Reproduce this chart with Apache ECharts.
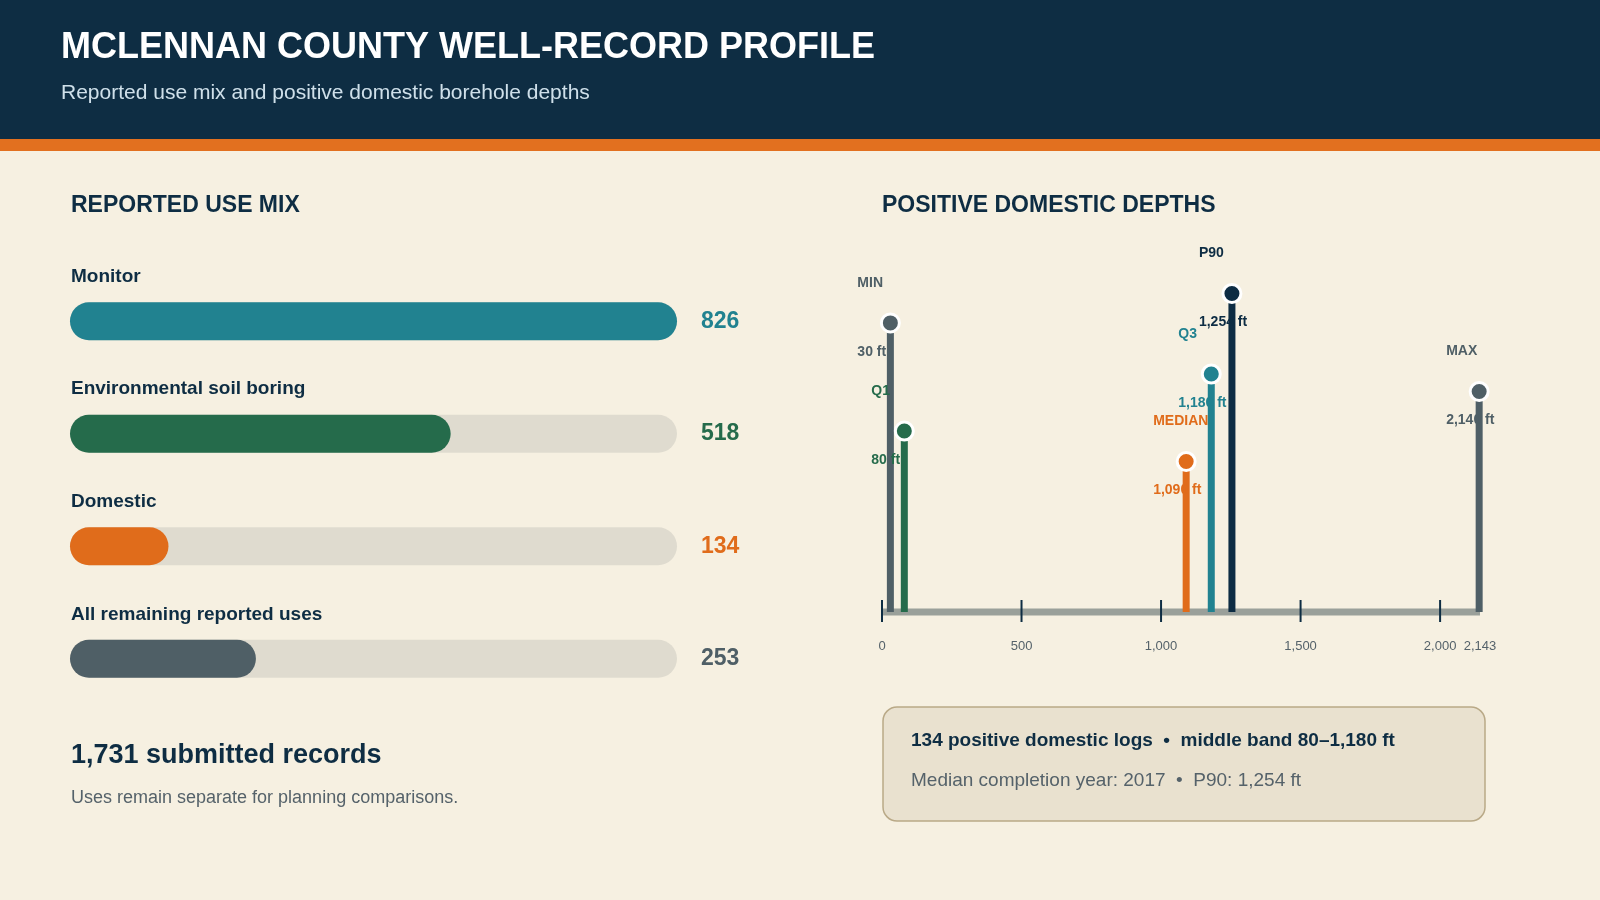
<!DOCTYPE html>
<html><head><meta charset="utf-8">
<script src="https://cdn.jsdelivr.net/npm/echarts@6/dist/echarts.min.js"></script>
<style>html,body{margin:0;padding:0;background:#f6f0e1}#c{width:1600px;height:900px}</style>
</head><body><div id="c"></div>
<script>
const useCategories=['Monitor','Environmental soil boring','Domestic','All remaining reported uses'];
const useCounts=[826,518,134,253];
const useColors=['#218290','#256b4b','#e06c1b','#4f5f66'];
const statNames=['MIN','Q1','MEDIAN','Q3','P90','MAX'];
const statDepths=[30,80,1090,1180,1254,2140];
const statHeights=[82.6,51.7,43,68,91,63];
const statColors=['#4f5f66','#256b4b','#e06c1b','#218290','#0d2c43','#4f5f66'];
const depthTicks=[0,500,1000,1500,2000];
const F='"Liberation Sans", Arial, sans-serif';
const maxCount=Math.max(...useCounts);
const chart=echarts.init(document.getElementById('c'));
const g=[
 {type:'rect',shape:{x:0,y:0,width:1600,height:139},style:{fill:'#0e2d43'}},
 {type:'rect',shape:{x:0,y:139,width:1600,height:12},style:{fill:'#e2701f'}},
 {type:'text',x:61,y:30,style:{text:'MCLENNAN COUNTY WELL-RECORD PROFILE',font:'bold 36px '+F,fill:'#fff'}},
 {type:'text',x:61,y:83,style:{text:'Reported use mix and positive domestic borehole depths',font:'21px '+F,fill:'#cfe0ea'}},
 {type:'text',x:71,y:194,style:{text:'REPORTED USE MIX',font:'bold 23px '+F,fill:'#0e2d43'}},
 {type:'text',x:882,y:194,style:{text:'POSITIVE DOMESTIC DEPTHS',font:'bold 23px '+F,fill:'#0e2d43'}},
 {type:'text',x:71,y:742,style:{text:'1,731 submitted records',font:'bold 27px '+F,fill:'#0e2d43'}},
 {type:'text',x:71,y:789,style:{text:'Uses remain separate for planning comparisons.',font:'18px '+F,fill:'#55626a'}},
 {type:'rect',shape:{x:883,y:707,width:602,height:114,r:14},style:{fill:'#e9e1cf',stroke:'#b9a987',lineWidth:1.5}},
 {type:'text',x:911,y:731,style:{text:'134 positive domestic logs  •  middle band 80–1,180 ft',font:'bold 19px '+F,fill:'#0e2d43'}},
 {type:'text',x:911,y:771,style:{text:'Median completion year: 2017  •  P90: 1,254 ft',font:'19px '+F,fill:'#55626a'}}
];
useCategories.forEach((c,i)=>g.push({type:'text',x:71,y:267+i*112.7,style:{text:c,font:'bold 19px '+F,fill:'#0e2d43'}}));
chart.setOption({
 animation:false,
 graphic:g,
 grid:[{left:70,top:265,width:607,height:450},{left:882,top:262,width:598,height:350}],
 xAxis:[{gridIndex:0,type:'value',min:0,max:maxCount,show:false},
  {gridIndex:1,type:'value',min:0,max:2143,interval:500,axisLine:{show:false},axisTick:{show:false},splitLine:{show:false},
   axisLabel:{margin:28,color:'#55626a',fontSize:13,fontFamily:F}}],
 yAxis:[{gridIndex:0,type:'category',data:useCategories,inverse:true,show:false},
  {gridIndex:1,type:'value',min:0,max:100,show:false}],
 series:[
  {type:'bar',xAxisIndex:0,yAxisIndex:0,barWidth:38,data:useCategories.map(()=>maxCount),
   itemStyle:{color:'#dfdbcf',borderRadius:19},silent:true,
   label:{show:true,position:'right',distance:24,fontSize:23,fontWeight:'bold',fontFamily:F,
    formatter:p=>useCounts[p.dataIndex],color:'#000',rich:{}},
   z:1},
  {type:'bar',xAxisIndex:0,yAxisIndex:0,barWidth:38,barGap:'-100%',
   data:useCounts.map((v,i)=>({value:v,itemStyle:{color:useColors[i]}})),itemStyle:{borderRadius:19},z:2},
  {type:'custom',xAxisIndex:1,yAxisIndex:1,data:[0],z:3,
   renderItem:(params,api)=>{
    const a=api.coord([0,0]),b=api.coord([2143,0]);
    const ch=[{type:'line',shape:{x1:a[0],y1:a[1],x2:b[0],y2:b[1]},style:{stroke:'#9aa09a',lineWidth:7}}];
    depthTicks.forEach(t=>{const p=api.coord([t,0]);ch.push({type:'line',shape:{x1:p[0],y1:p[1]-12,x2:p[0],y2:p[1]+10},style:{stroke:'#0e2d43',lineWidth:2}});});
    return {type:'group',children:ch};
   }},
  {type:'custom',xAxisIndex:1,yAxisIndex:1,z:4,data:statDepths.map((d,i)=>[d,statHeights[i]]),
   renderItem:(params,api)=>{
    const i=params.dataIndex,c=statColors[i];
    const top=api.coord([api.value(0),api.value(1)]),bot=api.coord([api.value(0),0]);
    return {type:'group',children:[
     {type:'rect',shape:{x:top[0]-3.5,y:top[1],width:7,height:bot[1]-top[1]},style:{fill:c}},
     {type:'circle',shape:{cx:top[0],cy:top[1],r:9},style:{fill:c,stroke:'#fff',lineWidth:3}},
     {type:'text',x:top[0]-33,y:top[1]-40,style:{text:statNames[i],font:'bold 14px '+F,fill:c,textVerticalAlign:'middle'}},
     {type:'text',x:top[0]-33,y:top[1]+29,style:{text:statDepths[i].toLocaleString('en-US')+' ft',font:'bold 14px '+F,fill:c,textVerticalAlign:'middle'}}
    ]};
   }}
 ]
});
chart.setOption({series:[{label:{formatter:p=>'{c'+p.dataIndex+'|'+useCounts[p.dataIndex]+'}',
 rich:Object.fromEntries(useColors.map((c,i)=>['c'+i,{color:c,fontSize:23,fontWeight:'bold',fontFamily:F}]))}}]});
</script></body></html>
